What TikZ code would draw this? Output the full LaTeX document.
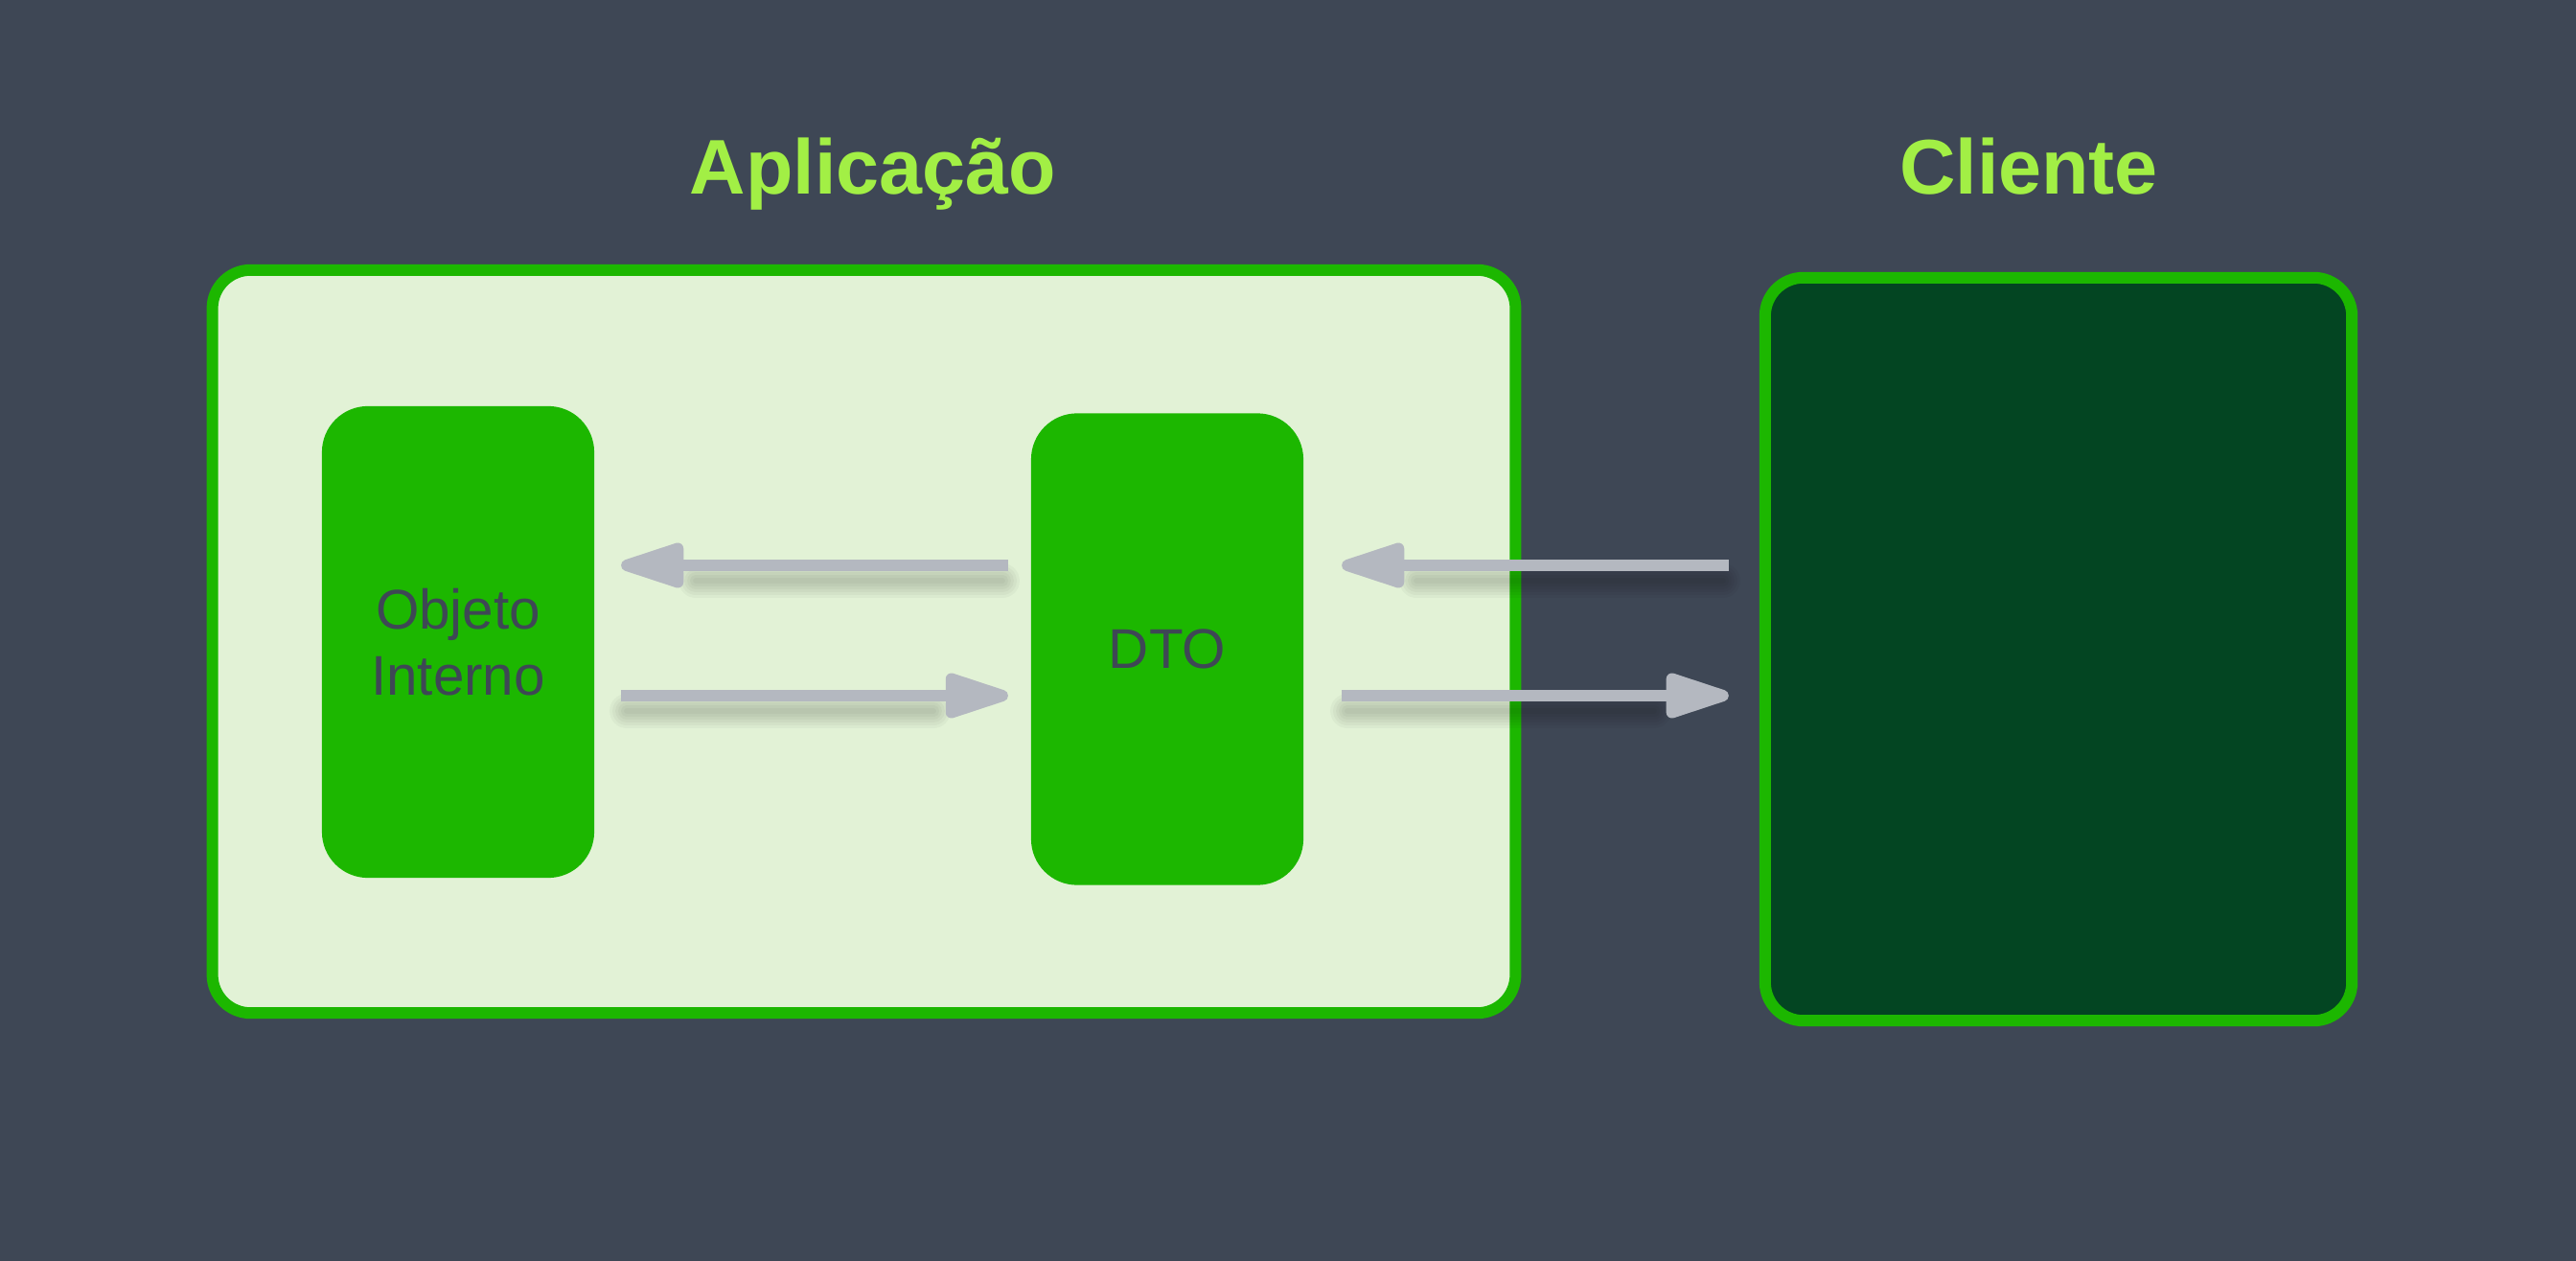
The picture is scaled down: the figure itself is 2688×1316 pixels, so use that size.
\documentclass[tikz,border=0pt]{standalone}
\usepackage{fontspec}
\setmainfont{Liberation Sans}
\usetikzlibrary{arrows.meta,calc}

\definecolor{bgslate}{HTML}{3E4755}
\definecolor{appfill}{HTML}{E2F2D6}
\definecolor{boxgreen}{HTML}{1CB700}
\definecolor{clientfill}{HTML}{034522}
\definecolor{titlegreen}{HTML}{A2EF45}
\definecolor{arrowgray}{HTML}{B4B8C0}
\definecolor{textslate}{HTML}{3E4755}

\tikzset{
  box/.style={draw=boxgreen, line width=0.12cm, rounded corners=0.40cm, inner sep=0pt, outer sep=0pt},
  card/.style={fill=boxgreen, rounded corners=0.48cm, minimum width=2.84cm, minimum height=4.92cm,
    inner sep=0pt, outer sep=0pt, text=textslate, align=center, font=\fontsize{16.6}{19.6}\selectfont},
  title/.style={text=titlegreen, anchor=base, font=\bfseries\fontsize{23}{27}\selectfont},
  flow/.style={draw=arrowgray, line width=0.12cm, -{Triangle[length=0.80cm,width=0.48cm,round]}},
  shade/.style={black, opacity=0.03, line cap=round},
}

\begin{document}
\begin{tikzpicture}[x=0.01cm,y=-0.01cm]
% background
\fill[bgslate] (0,0) rectangle (2688,1316);

% titles
\node[title] (tapp) at (911,203) {Aplicação};
\node[title] (tcli) at (2117,203) {Cliente};

% containers
\node[box, fill=appfill, minimum width=13.59cm, minimum height=7.75cm] (app) at (901.5,669.5) {};
\node[box, fill=clientfill, minimum width=6.12cm, minimum height=7.75cm] (cli) at (2148,677.5) {};

% objects inside the application
\node[card] (obj) at (478,670) {Objeto\\Interno};
\node[card] (dto) at (1218,677.5) {DTO};

% arrow rows
\coordinate (top) at (0,590);
\coordinate (bot) at (0,726);
\coordinate (a1s) at ($(dto.west |- top)+(-24,0)$);
\coordinate (a1e) at ($(obj.east |- top)+(28,0)$);
\coordinate (a2s) at ($(obj.east |- bot)+(28,0)$);
\coordinate (a2e) at ($(dto.west |- bot)+(-24,0)$);
\coordinate (a3s) at ($(cli.west |- top)+(-38,0)$);
\coordinate (a3e) at ($(dto.east |- top)+(40,0)$);
\coordinate (a4s) at ($(dto.east |- bot)+(40,0)$);
\coordinate (a4e) at ($(cli.west |- bot)+(-38,0)$);

% soft shadows under the shafts
\foreach \w in {0.06,0.12,0.18,0.24,0.30,0.36}{
  \foreach \s/\e in {a1e/a1s,a3e/a3s}
    \draw[shade, line width=\w cm] ($(\s)+(78,16)$) -- ($(\e)+(-6,16)$);
  \foreach \s/\e in {a2s/a2e,a4s/a4e}
    \draw[shade, line width=\w cm] ($(\s)+(6,16)$) -- ($(\e)+(-78,16)$);
}

% arrows
\draw[flow] (a1s) -- (a1e);
\draw[flow] (a2s) -- (a2e);
\draw[flow] (a3s) -- (a3e);
\draw[flow] (a4s) -- (a4e);
\end{tikzpicture}
\end{document}
